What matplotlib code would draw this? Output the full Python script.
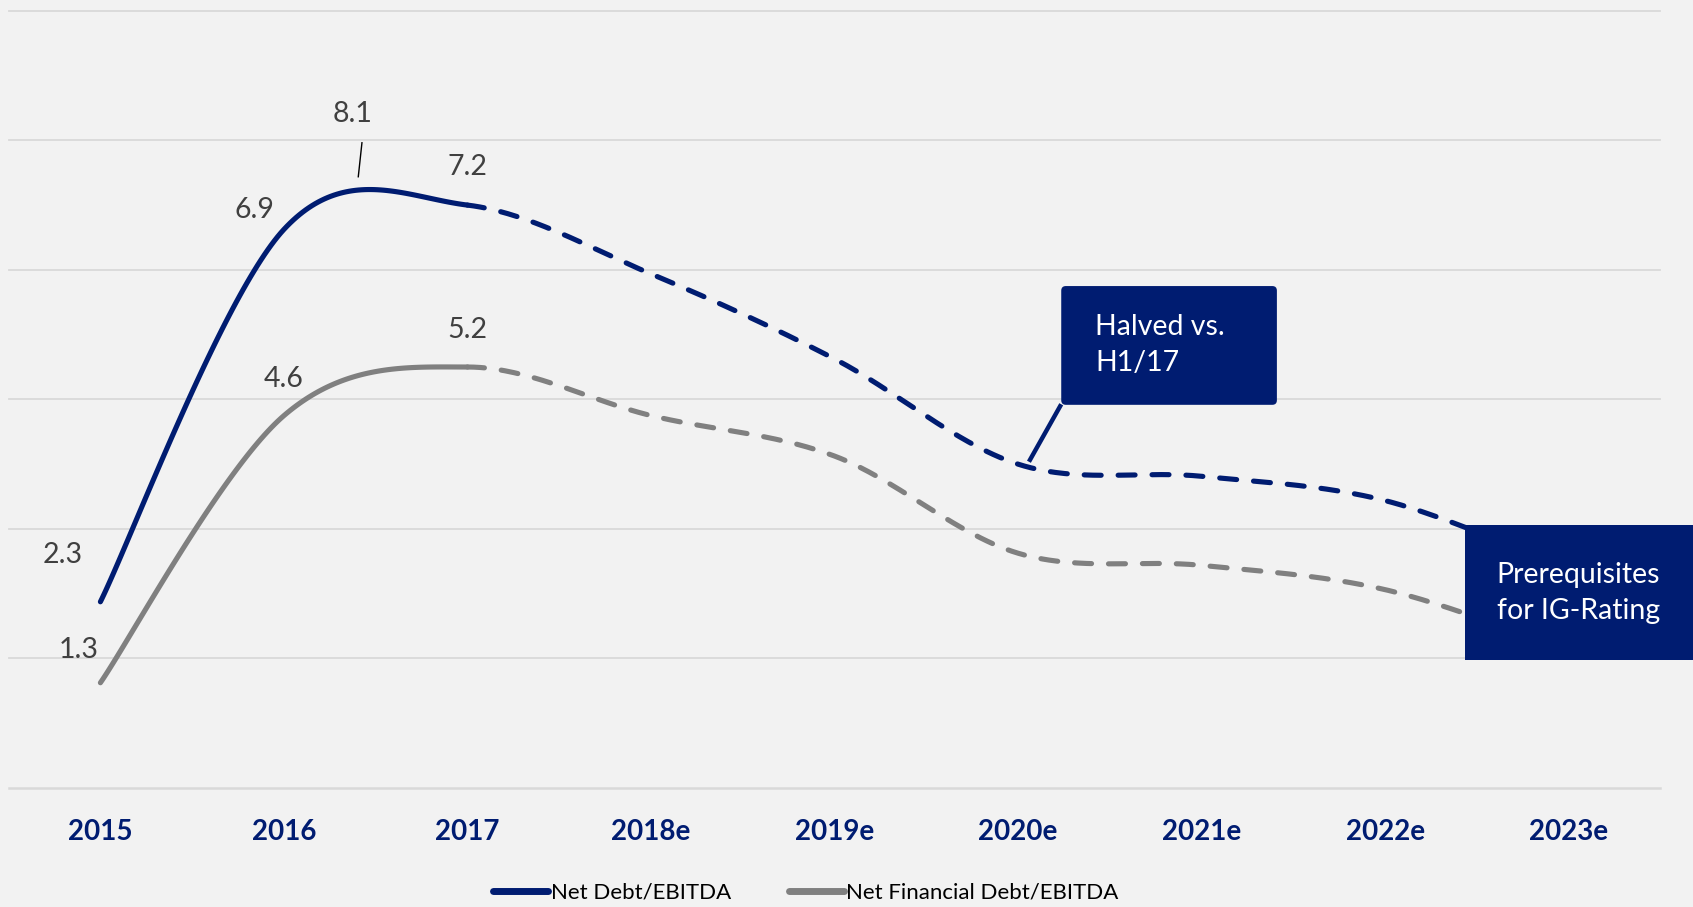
import numpy as np
import matplotlib
matplotlib.use("Agg")
import matplotlib.pyplot as plt
from matplotlib.lines import Line2D
from matplotlib.patches import FancyBboxPatch

plt.rcParams["font.family"] = ["Lato", "DejaVu Sans"]

years = ["2015", "2016", "2017", "2018e", "2019e", "2020e", "2021e", "2022e", "2023e"]
net_debt = [2.3, 6.9, 7.2, 6.35, 5.3, 4.0, 3.85, 3.55, 2.7]
net_fin_debt = [1.3, 4.6, 5.2, 4.6, 4.1, 2.9, 2.75, 2.45, 1.7]
n_actual = 3          # 2015-2017 reported, rest estimates
labelled = 3          # value labels on the reported years
h1_17_value = 8.1     # H1/17 peak, called out between 2016 and 2017
h1_17_pos = 1.425
grid_ticks = np.arange(0, 9.61, 1.6)

NAVY = "#001c71"
GREY = "#808080"
BG = "#f2f2f2"
LABEL = "#404040"


def smooth(xs, ys, n=60):
    # Bezier smoothing through every point (Catmull-Rom style tangents)
    xs = np.asarray(xs, float)
    ys = np.asarray(ys, float)
    px = np.concatenate([[xs[0]], xs, [xs[-1]]])
    py = np.concatenate([[ys[0]], ys, [ys[-1]]])
    out_x, out_y = [], []
    t = np.linspace(0, 1, n)
    for i in range(len(xs) - 1):
        p0 = np.array([px[i + 1], py[i + 1]])
        p3 = np.array([px[i + 2], py[i + 2]])
        c1 = p0 + (p3 - np.array([px[i], py[i]])) / 6.0
        c2 = p3 - (np.array([px[i + 3], py[i + 3]]) - p0) / 6.0
        b = ((1 - t) ** 3)[:, None] * p0 + (3 * (1 - t) ** 2 * t)[:, None] * c1 \
            + (3 * (1 - t) * t ** 2)[:, None] * c2 + (t ** 3)[:, None] * p3
        if i > 0:
            b = b[1:]
        out_x.append(b[:, 0])
        out_y.append(b[:, 1])
    return np.concatenate(out_x), np.concatenate(out_y)


fig = plt.figure(figsize=(16.93, 9.07), dpi=100, facecolor=BG)
ax = fig.add_axes([0.0051, 0.1312, 0.9757, 0.8569])
ax.set_facecolor(BG)
ax.set_xlim(-0.5, 8.5)
ax.set_ylim(0, 9.6)
for s in ax.spines.values():
    s.set_visible(False)

for g in grid_ticks:
    ax.axhline(g, color="#d9d9d9", lw=1.3 if g > 0 else 1.8, zorder=0, clip_on=False)

x = np.arange(len(years))
per_seg = 60
for vals, col in [(net_debt, NAVY), (net_fin_debt, GREY)]:
    sx, sy = smooth(x, vals, per_seg)
    cut = (n_actual - 1) * (per_seg - 1)
    ax.plot(sx[:cut + 1], sy[:cut + 1], color=col, lw=3.7,
            solid_capstyle="round", zorder=3)
    ax.plot(sx[cut:], sy[cut:], color=col, lw=3.7, linestyle=(0, (3.3, 3.3)),
            dash_capstyle="round", zorder=3)

# value labels on the reported years (offsets in pixels)
nd_offsets = [(-38, 47), (-30, 19), (0, 38)]
nf_offsets = [(-22, 33), (0, 37), (0, 37)]
for i in range(labelled):
    ax.annotate(f"{net_debt[i]:.1f}", (x[i], net_debt[i]), xytext=nd_offsets[i],
                textcoords="offset pixels", ha="center", va="center",
                fontsize=20.5, color=LABEL, zorder=5)
    ax.annotate(f"{net_fin_debt[i]:.1f}", (x[i], net_fin_debt[i]), xytext=nf_offsets[i],
                textcoords="offset pixels", ha="center", va="center",
                fontsize=20.5, color=LABEL, zorder=5)

# H1/17 call-out with short leader line
ax.plot([h1_17_pos - 0.02, h1_17_pos], [7.55, 7.97], color="black", lw=1.0, zorder=4)
ax.text(h1_17_pos - 0.05, 8.32, f"{h1_17_value:.1f}", ha="center", va="center",
        fontsize=20.5, color=LABEL, zorder=5)

# "Halved" box pointing at 2020e
aspect = (1 / 75) / (1 / 170)
box1 = FancyBboxPatch((5.235, 4.733), 1.175, 1.467,
                      boxstyle="round,pad=0,rounding_size=0.025",
                      mutation_aspect=aspect, fc=NAVY, ec="none", zorder=6)
ax.add_patch(box1)
ax.plot([5.235, 5.059], [4.74, 4.03], color=NAVY, lw=3.2,
        solid_capstyle="butt", zorder=6)
ax.text(5.42, 5.47, "Halved vs.\nH1/17", ha="left", va="center", color="white",
        fontsize=20.5, linespacing=1.45, zorder=7)

# IG-rating box at the right edge
box2 = FancyBboxPatch((7.435, 1.587), 1.3, 1.666, boxstyle="square,pad=0",
                      fc=NAVY, ec="none", zorder=6, clip_on=False)
ax.add_patch(box2)
ax.text(8.053, 2.41, "Prerequisites\nfor IG-Rating", ha="center", va="center",
        multialignment="left", color="white", fontsize=20.5, linespacing=1.45,
        zorder=7, clip_on=False)

ax.set_xticks(x)
ax.set_xticklabels(years, fontsize=20, fontweight="bold", color=NAVY)
ax.tick_params(axis="x", length=0, pad=22)
ax.set_yticks([])

handles = [Line2D([], [], color=NAVY, lw=5, solid_capstyle="round"),
           Line2D([], [], color=GREY, lw=5, solid_capstyle="round")]
fig.legend(handles, ["Net Debt/EBITDA", "Net Financial Debt/EBITDA"],
           loc="center", bbox_to_anchor=(0.476, 0.016), ncol=2, frameon=False,
           fontsize=16, handlelength=2.5, handletextpad=0.1, columnspacing=2.6,
           borderaxespad=0, borderpad=0)

fig.savefig("out.png", dpi=100, facecolor=BG)
